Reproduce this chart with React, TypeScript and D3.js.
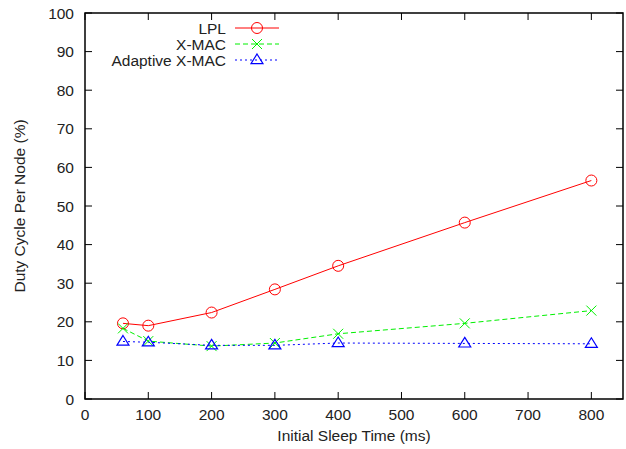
import React from "react";
import * as d3 from "d3";

const sleepTimes = [60, 100, 200, 300, 400, 600, 800];
const lplValues = [19.6, 19.0, 22.4, 28.4, 34.5, 45.7, 56.6];
const xmacValues = [18.3, 15.0, 13.7, 14.5, 16.9, 19.6, 22.9];
const adaptiveValues = [14.9, 14.7, 13.9, 13.9, 14.5, 14.4, 14.3];
const xTicks = [0, 100, 200, 300, 400, 500, 600, 700, 800];
const yTicks = [0, 10, 20, 30, 40, 50, 60, 70, 80, 90, 100];
const seriesNames = ["LPL", "X-MAC", "Adaptive X-MAC"];

const W = 626;
const H = 449;
const left = 85;
const right = 623;
const top = 13;
const bottom = 399;
const font = "'Liberation Sans', Arial, sans-serif";
const fs = 15.5;

export default function App() {
  const x = d3.scaleLinear().domain([0, 850]).range([left, right]);
  const y = d3.scaleLinear().domain([0, 100]).range([bottom, top]);
  const line = d3
    .line<[number, number]>()
    .x((d) => x(d[0]))
    .y((d) => y(d[1]));

  const series = [
    { name: seriesNames[0], values: lplValues, color: "#ff0000", dash: "none", marker: "circle" },
    { name: seriesNames[1], values: xmacValues, color: "#00f000", dash: "5,3", marker: "x" },
    { name: seriesNames[2], values: adaptiveValues, color: "#0000ff", dash: "2,3", marker: "tri" },
  ];

  const marker = (kind: string, cx: number, cy: number, color: string, key: string) => {
    if (kind === "circle")
      return <circle key={key} cx={cx} cy={cy} r={5.5} fill="none" stroke={color} strokeWidth={1} />;
    if (kind === "x") {
      const s = 5;
      return (
        <path
          key={key}
          d={`M${cx - s},${cy - s}L${cx + s},${cy + s}M${cx - s},${cy + s}L${cx + s},${cy - s}`}
          stroke={color}
          strokeWidth={1}
          fill="none"
        />
      );
    }
    const s = 6;
    return (
      <path
        key={key}
        d={`M${cx},${cy - s}L${cx + s},${cy + s * 0.6}L${cx - s},${cy + s * 0.6}Z`}
        stroke={color}
        strokeWidth={1.2}
        fill="none"
      />
    );
  };

  const legendY = [28, 44, 60];
  const legendTextX = 226;
  const legendLine = [235, 279];

  return (
    <svg width={W} height={H} style={{ position: "absolute", left: 0, top: 0, background: "#fff" }}>
      <rect x={0} y={0} width={W} height={H} fill="#fff" />
      {/* ticks */}
      {xTicks.map((t) => (
        <g key={"xt" + t}>
          <line x1={x(t)} x2={x(t)} y1={bottom} y2={bottom - 7} stroke="#000" strokeWidth={1} />
          <line x1={x(t)} x2={x(t)} y1={top} y2={top + 7} stroke="#000" strokeWidth={1} />
          <text x={x(t)} y={420} textAnchor="middle" fontFamily={font} fontSize={fs} fill="#222">
            {t}
          </text>
        </g>
      ))}
      {yTicks.map((t) => (
        <g key={"yt" + t}>
          <line x1={left} x2={left + 7} y1={y(t)} y2={y(t)} stroke="#000" strokeWidth={1} />
          <line x1={right} x2={right - 7} y1={y(t)} y2={y(t)} stroke="#000" strokeWidth={1} />
          <text x={74} y={y(t) + 5.5} textAnchor="end" fontFamily={font} fontSize={fs} fill="#222">
            {t}
          </text>
        </g>
      ))}
      {/* series */}
      {series.map((s) => {
        const pts = sleepTimes.map((t, i) => [t, s.values[i]] as [number, number]);
        return (
          <g key={s.name}>
            <path d={line(pts) || ""} fill="none" stroke={s.color} strokeWidth={1} strokeDasharray={s.dash} />
            {pts.map((p, i) => marker(s.marker, x(p[0]), y(p[1]), s.color, s.name + i))}
          </g>
        );
      })}
      {/* legend */}
      {series.map((s, i) => (
        <g key={"lg" + s.name}>
          <text x={legendTextX} y={legendY[i] + 5.5} textAnchor="end" fontFamily={font} fontSize={fs} fill="#222">
            {s.name}
          </text>
          <line
            x1={legendLine[0]}
            x2={legendLine[1]}
            y1={legendY[i]}
            y2={legendY[i]}
            stroke={s.color}
            strokeWidth={1}
            strokeDasharray={s.dash}
          />
          {marker(s.marker, (legendLine[0] + legendLine[1]) / 2, legendY[i], s.color, "lm" + i)}
        </g>
      ))}
      {/* border */}
      <rect x={left} y={top} width={right - left} height={bottom - top} fill="none" stroke="#000" strokeWidth={1.5} />
      {/* axis labels */}
      <text x={(left + right) / 2} y={441} textAnchor="middle" fontFamily={font} fontSize={fs} fill="#222">
        Initial Sleep Time (ms)
      </text>
      <text
        transform={`translate(25,${(top + bottom) / 2}) rotate(-90)`}
        textAnchor="middle"
        fontFamily={font}
        fontSize={fs}
        fill="#222"
      >
        Duty Cycle Per Node (%)
      </text>
    </svg>
  );
}
